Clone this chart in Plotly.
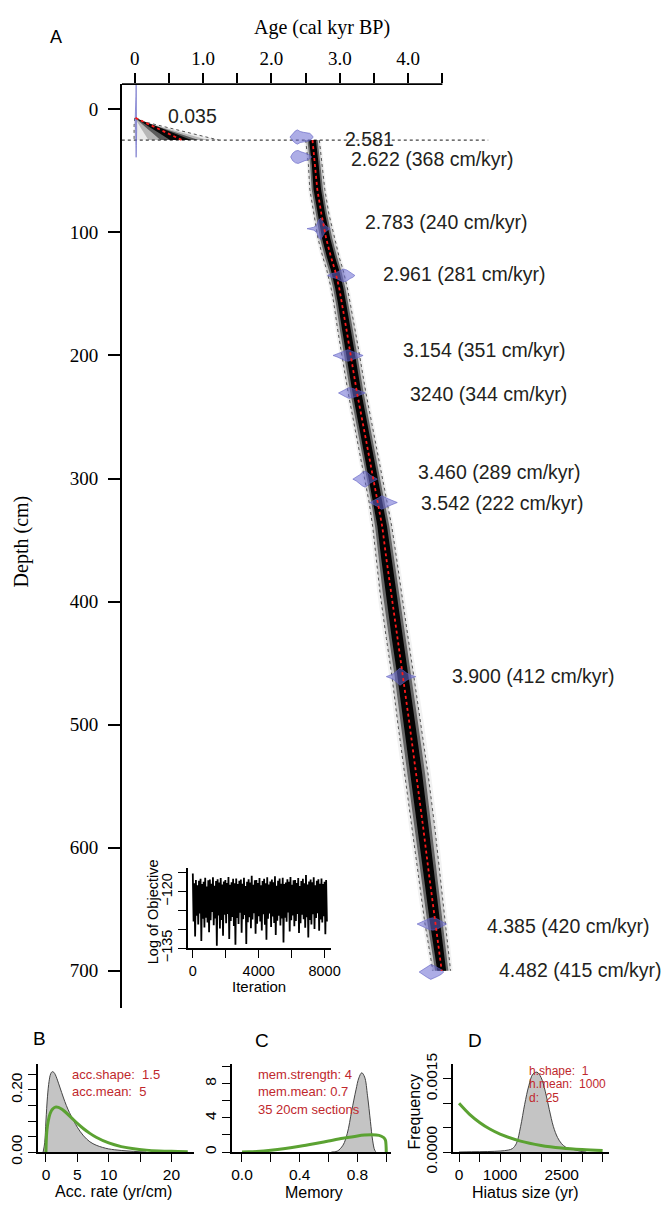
import numpy as np
import plotly.graph_objects as go

W, H = 670, 1222
def px(x): return x / W
def py(y): return 1 - y / H

SERIF = "Liberation Serif"
SANS = "Liberation Sans"
RED_TXT = "#c0282d"
GREEN = "#5ba232"

# ---------------- DATA ----------------
# Age-depth model, lower section (depth cm, mean age kyr, half-width of 95% range kyr)
model_depth = [25, 45, 65, 85, 105, 120, 131, 145, 157, 180, 197, 230, 265, 300, 320, 339,
               365, 394, 430, 460, 500, 540, 584, 620, 660, 700]
model_mean = [2.60, 2.64, 2.67, 2.73, 2.80, 2.87, 2.93, 2.99, 3.03, 3.10, 3.15, 3.25, 3.37, 3.49,
              3.56, 3.62, 3.68, 3.75, 3.84, 3.92, 4.02, 4.12, 4.22, 4.30, 4.39, 4.49]
model_hw = [0.10, 0.10, 0.11, 0.11, 0.12, 0.12, 0.12, 0.12, 0.12, 0.13, 0.13, 0.13, 0.13, 0.13,
            0.13, 0.14, 0.15, 0.16, 0.16, 0.16, 0.17, 0.17, 0.17, 0.16, 0.15, 0.13]

# Age-depth model, upper section (above hiatus)
top_depth = [7, 10, 13, 16, 19, 22, 25]
top_mean = [0.01, 0.12, 0.24, 0.35, 0.47, 0.58, 0.69]
top_lo = [0.0, -0.01, -0.01, -0.01, -0.01, -0.01, -0.01]
top_hi = [0.02, 0.13, 0.35, 0.57, 0.79, 1.01, 1.23]

hiatus_depth = 25

# Calibrated dates: depth, label, probability profile (age kyr, density)
date_depth = [9.5, 22.5, 38.7, 97, 135, 200, 230.5, 300.5, 319.5, 461, 662, 701]
date_label = ["0.035", "2.581", "2.622 (368 cm/kyr)", "2.783 (240 cm/kyr)",
              "2.961 (281 cm/kyr)", "3.154 (351 cm/kyr)", "3240 (344 cm/kyr)",
              "3.460 (289 cm/kyr)", "3.542 (222 cm/kyr)", "3.900 (412 cm/kyr)",
              "4.385 (420 cm/kyr)", "4.482 (415 cm/kyr)"]
date_ages = [
    [0.005, 0.012, 0.017, 0.02, 0.023, 0.028, 0.035],
    [2.27, 2.31, 2.35, 2.38, 2.42, 2.47, 2.52, 2.56, 2.59, 2.61],
    [2.28, 2.31, 2.35, 2.39, 2.43, 2.48, 2.53, 2.57, 2.59],
    [2.52, 2.56, 2.62, 2.66, 2.69, 2.72, 2.75, 2.78, 2.82, 2.86],
    [2.82, 2.88, 2.95, 3.00, 3.05, 3.10, 3.15, 3.19, 3.22],
    [2.90, 2.96, 3.02, 3.08, 3.12, 3.17, 3.22, 3.28, 3.34],
    [2.98, 3.03, 3.08, 3.13, 3.18, 3.23, 3.28, 3.33, 3.37],
    [3.19, 3.24, 3.29, 3.33, 3.37, 3.41, 3.45, 3.50, 3.55],
    [3.44, 3.50, 3.56, 3.61, 3.66, 3.71, 3.76, 3.84],
    [3.68, 3.74, 3.79, 3.84, 3.88, 3.93, 3.98, 4.04, 4.11],
    [4.13, 4.19, 4.25, 4.31, 4.36, 4.41, 4.46, 4.51, 4.56],
    [4.16, 4.22, 4.28, 4.33, 4.38, 4.43, 4.48, 4.52],
]
date_dens = [
    [0, 7, 20, 29.5, 20, 7, 0],
    [0, 3.0, 5.0, 5.8, 4.5, 3.8, 3.5, 3.0, 1.5, 0],
    [0, 3.0, 4.8, 5.3, 4.2, 3.2, 2.5, 0.8, 0],
    [0, 0.6, 1.2, 3.0, 7.0, 8.7, 6.0, 3.0, 1.2, 0],
    [0, 1.5, 2.5, 4.0, 5.2, 4.5, 2.5, 1.5, 0],
    [0, 1.2, 2.5, 4.2, 4.7, 3.5, 2.5, 1.5, 0],
    [0, 1.5, 3.0, 4.3, 3.8, 3.0, 2.0, 1.0, 0],
    [0, 1.5, 3.5, 5.5, 6.5, 5.0, 3.0, 1.5, 0],
    [0, 1.5, 3.5, 5.5, 4.5, 3.0, 1.8, 0],
    [0, 1.2, 2.5, 5.0, 7.0, 5.0, 2.8, 1.2, 0],
    [0, 1.5, 3.0, 4.5, 5.0, 4.5, 3.0, 1.5, 0],
    [0, 2.0, 4.5, 6.0, 5.0, 3.5, 2.0, 0],
]

# MCMC log objective trace
trace_vals = [
    -115.2, -127.9, -117.8, -131.9, -116.9, -126.4, -118.3, -128.7, -117.1, -125.8,
    -116.6, -133.1, -118.0, -127.2, -117.4, -129.5, -116.3, -126.9, -118.6, -128.2,
    -117.0, -130.8, -116.8, -127.6, -117.9, -125.4, -116.2, -128.9, -118.4, -127.1,
    -117.2, -134.4, -116.7, -126.3, -117.6, -129.8, -116.4, -127.5, -118.1, -131.7,
    -117.3, -126.1, -116.9, -128.4, -117.7, -125.9, -116.1, -132.6, -118.2, -127.8,
    -117.5, -126.7, -116.6, -129.1, -117.8, -134.1, -116.5, -127.0, -118.0, -128.6,
    -117.1, -125.6, -116.8, -130.9, -117.9, -127.3, -116.3, -126.2, -118.5, -133.9,
    -117.4, -128.1, -116.7, -126.8, -117.6, -129.7, -115.8, -127.4, -118.2, -125.7,
    -117.0, -131.2, -116.9, -128.5, -117.7, -126.5, -116.4, -127.9, -118.3, -130.3,
    -117.2, -126.0, -116.6, -128.8, -117.8, -132.8, -116.2, -127.2, -118.1, -125.8,
    -117.3, -129.4, -116.8, -126.6, -117.5, -128.3, -115.9, -131.5, -118.4, -127.7,
    -117.1, -126.4, -116.5, -129.0, -117.9, -127.1, -116.3, -133.5, -118.0, -126.9,
    -117.6, -128.0, -116.7, -125.5, -117.4, -130.6, -116.1, -127.6, -118.2, -126.3,
    -117.0, -129.2, -116.9, -127.8, -117.7, -125.9, -116.4, -131.0, -118.5, -128.4,
    -117.2, -126.1, -116.6, -127.3, -117.8, -129.6, -115.6, -126.8, -118.1, -132.2,
    -117.3, -127.5, -116.8, -128.7, -117.5, -126.0, -116.2, -129.9, -118.3, -127.0,
    -117.1, -125.7, -116.7, -130.4, -117.9, -127.4, -116.5, -128.2, -118.0, -126.5,
    -117.4, -131.3, -116.9, -127.9,
]
trace_last_iter = 8140

# Panel B: accumulation rate
acc_post_x = [-0.45, -0.2, 0, 0.25, 0.5, 0.75, 1.0, 1.25, 1.5, 2.0, 2.5, 3.0, 3.5, 4.0, 5.0,
              6.0, 7.0, 8.0, 9.0, 10.0, 12.0, 14.0, 16.0]
acc_post_y = [0, 0.03, 0.10, 0.18, 0.228, 0.252, 0.259, 0.257, 0.249, 0.222, 0.192, 0.163,
              0.138, 0.117, 0.080, 0.052, 0.033, 0.022, 0.015, 0.010, 0.005, 0.002, 0.0]
acc_prior_x = [0, 0.1, 0.25, 0.5, 0.75, 1.0, 1.5, 2.0, 2.5, 3, 4, 5, 6, 7, 8, 10, 12, 14, 16,
               18, 20, 22.6]
acc_prior_y = [0, 0.0569, 0.086, 0.1128, 0.1282, 0.1373, 0.1448, 0.1439, 0.1385, 0.1306,
               0.1117, 0.0925, 0.0751, 0.0601, 0.0476, 0.0292, 0.0175, 0.0104, 0.0061,
               0.00355, 0.00206, 0.0010]

# Panel C: memory
mem_post_x = [0.62, 0.66, 0.70, 0.73, 0.76, 0.79, 0.81, 0.83, 0.85, 0.87, 0.89, 0.905, 0.92, 0.93]
mem_post_y = [0, 0.1, 0.8, 2.2, 4.8, 7.3, 8.7, 9.3, 8.8, 6.6, 3.6, 1.4, 0.2, 0]
mem_prior_x = [0, 0.05, 0.1, 0.2, 0.3, 0.4, 0.5, 0.6, 0.7, 0.8, 0.85, 0.9, 0.95, 0.98, 0.99,
               0.995, 1.0]
mem_prior_y = [0, 0.018, 0.061, 0.206, 0.416, 0.676, 0.974, 1.294, 1.612, 1.890, 1.990,
               2.034, 1.952, 1.719, 1.523, 1.339, 0]

# Panel D: hiatus size
hia_post_x = [0, 300, 700, 1000, 1200, 1300, 1400, 1500, 1600, 1700, 1800, 1900, 2000, 2100,
              2200, 2300, 2400, 2500, 2600, 2800, 3000, 3100]
hia_post_y = [0, 0.000005, 0.00001, 0.00002, 0.00004, 0.00007, 0.00018, 0.00052, 0.00098,
              0.00136, 0.0016, 0.00164, 0.00153, 0.00125, 0.00087, 0.00052, 0.0003, 0.00017,
              0.0001, 0.00005, 0.00001, 0]
hia_prior_x = [0, 250, 500, 750, 1000, 1500, 2000, 2500, 3000, 3500]
hia_prior_y = [0.001, 0.000779, 0.000607, 0.000472, 0.000368, 0.000223, 0.000135, 0.000082,
               0.00005, 0.00003]

# ---------------- FIGURE ----------------
fig = go.Figure()
skip = dict(hoverinfo="skip", showlegend=False)

def poly(xs_lo, xs_hi, ys, color, ax="x", ay="y"):
    fig.add_trace(go.Scatter(x=list(xs_lo) + list(xs_hi)[::-1], y=list(ys) + list(ys)[::-1],
                             mode="lines", fill="toself", fillcolor=color, line=dict(width=0),
                             xaxis=ax, yaxis=ay, **skip))

# hiatus dotted line
fig.add_trace(go.Scatter(x=[-0.19, 5.17], y=[hiatus_depth, hiatus_depth], mode="lines",
                         line=dict(color="#444", width=1.1, dash="dot"), **skip))

# lower section band
mm = np.array(model_mean); hw = np.array(model_hw)
for f, c in [(1.25, "rgba(0,0,0,0.05)"), (1.0, "rgba(0,0,0,0.16)"),
             (0.75, "rgba(0,0,0,0.5)"), (0.5, "rgba(0,0,0,0.97)")]:
    poly(mm - f * hw, mm + f * hw, model_depth, c)
for s in (-1, 1):
    fig.add_trace(go.Scatter(x=mm + s * hw, y=model_depth, mode="lines",
                             line=dict(color="#555", width=1, dash="dot"), **skip))

# upper section band
tm = np.array(top_mean); tl = np.array(top_lo); th = np.array(top_hi)
for f, c in [(1.0, "rgba(0,0,0,0.08)"), (0.7, "rgba(0,0,0,0.22)"),
             (0.45, "rgba(0,0,0,0.5)"), (0.25, "rgba(0,0,0,0.92)")]:
    poly(tm - f * (tm - tl), tm + f * (th - tm), top_depth, c)
for b in (tl, th):
    fig.add_trace(go.Scatter(x=b, y=top_depth, mode="lines",
                             line=dict(color="#555", width=1, dash="dot"), **skip))

# calibrated dates
for d, a, p in zip(date_depth, date_ages, date_dens):
    a = np.array(a); p = np.array(p)
    fig.add_trace(go.Scatter(x=list(a) + list(a[::-1]), y=list(d - p) + list((d + p)[::-1]),
                             mode="lines", fill="toself", fillcolor="rgba(105,105,210,0.55)",
                             line=dict(color="rgba(95,95,195,0.75)", width=0.8), **skip))

# mean lines
fig.add_trace(go.Scatter(x=model_mean, y=model_depth, mode="lines",
                         line=dict(color="#ff1a1a", width=1.8, dash="dot"), **skip))
fig.add_trace(go.Scatter(x=top_mean, y=top_depth, mode="lines",
                         line=dict(color="#ff1a1a", width=1.8, dash="dot"), **skip))

# inset trace
fig.add_trace(go.Scatter(x=np.linspace(0, trace_last_iter, len(trace_vals)), y=trace_vals,
                         mode="lines", line=dict(color="black", width=1.8), xaxis="x2", yaxis="y2", **skip))

# B
fig.add_trace(go.Scatter(x=acc_post_x, y=acc_post_y, mode="lines", fill="tozeroy",
                         fillcolor="#c4c4c4", line=dict(color="#444", width=1, shape="spline"),
                         xaxis="x3", yaxis="y3", **skip))
fig.add_trace(go.Scatter(x=acc_prior_x, y=acc_prior_y, mode="lines",
                         line=dict(color=GREEN, width=3, shape="spline"), xaxis="x3", yaxis="y3", **skip))
# C
fig.add_trace(go.Scatter(x=mem_post_x, y=mem_post_y, mode="lines", fill="tozeroy",
                         fillcolor="#c4c4c4", line=dict(color="#444", width=1, shape="spline"),
                         xaxis="x4", yaxis="y4", **skip))
fig.add_trace(go.Scatter(x=mem_prior_x, y=mem_prior_y, mode="lines",
                         line=dict(color=GREEN, width=3, shape="spline"), xaxis="x4", yaxis="y4", **skip))
# D
fig.add_trace(go.Scatter(x=hia_post_x, y=hia_post_y, mode="lines", fill="tozeroy",
                         fillcolor="#c4c4c4", line=dict(color="#444", width=1, shape="spline"),
                         xaxis="x5", yaxis="y5", **skip))
fig.add_trace(go.Scatter(x=hia_prior_x, y=hia_prior_y, mode="lines",
                         line=dict(color=GREEN, width=3, shape="spline"), xaxis="x5", yaxis="y5", **skip))

# ---------------- AXES ----------------
base = dict(showgrid=False, zeroline=False, ticks="outside", tickcolor="black",
            linecolor="black", fixedrange=True)
sans_tick = dict(family=SANS, size=14.5, color="black")

layout = dict(
    width=W, height=H, margin=dict(l=0, r=0, t=0, b=0),
    paper_bgcolor="white", plot_bgcolor="rgba(0,0,0,0)", showlegend=False,
    xaxis=dict(base, domain=[px(123), 1], range=[-0.187, 7.683], side="top", anchor="y",
               showline=False, tickvals=[0, 0.5, 1, 1.5, 2, 2.5, 3, 3.5, 4, 4.5],
               ticktext=["0", "", "1.0", "", "2.0", "", "3.0", "", "4.0", ""],
               ticklen=10, tickwidth=1.6, tickfont=dict(family=SERIF, size=19, color="black")),
    yaxis=dict(base, domain=[py(1024), py(75)], range=[730.4, -20.55], anchor="x",
               showline=True, linewidth=1.8, ticklen=12, tickwidth=1.6,
               tickvals=[0, 100, 200, 300, 400, 500, 600, 700], ticklabelstandoff=6,
               tickfont=dict(family=SERIF, size=19, color="black")),
    xaxis2=dict(base, domain=[px(190), px(335)], range=[-298.5, 8358], anchor="y2",
                showline=True, linewidth=1.5, ticklen=8, tickwidth=1.4,
                tickvals=[0, 2000, 4000, 6000, 8000], ticktext=["0", "", "4000", "", "8000"],
                tickfont=sans_tick),
    yaxis2=dict(base, domain=[py(962.7), py(880)], range=[-135.1, -113.7], anchor="x2",
                showline=True, linewidth=1.5, ticklen=8, tickwidth=1.4, tickangle=-90,
                tickvals=[-135, -130, -125, -120, -115],
                ticktext=["\u2212135", "", "", "\u2212120", ""], tickfont=sans_tick),
    xaxis3=dict(base, domain=[px(37.3), px(196.7)], range=[-1.317, 23.67], anchor="y3",
                showline=True, linewidth=1.5, ticklen=8, tickwidth=1.4,
                tickvals=[0, 5, 10, 15, 20], ticktext=["0", "5", "10", "", "20"],
                tickfont=dict(sans_tick, size=15.5)),
    yaxis3=dict(base, domain=[py(1171.7), py(1081.7)], range=[0, 0.2826], anchor="x3",
                showline=True, linewidth=1.5, ticklen=8, tickwidth=1.4, tickangle=-90,
                tickvals=[0, 0.05, 0.1, 0.15, 0.2, 0.25],
                ticktext=["0.00", "", "", "", "0.20", ""], tickfont=dict(sans_tick, size=15.5)),
    xaxis4=dict(base, domain=[px(235), px(396.7)], range=[-0.0682, 1.034], anchor="y4",
                showline=True, linewidth=1.5, ticklen=8, tickwidth=1.4,
                tickvals=[0, 0.2, 0.4, 0.6, 0.8, 1.0], ticktext=["0.0", "", "0.4", "", "0.8", ""],
                tickfont=dict(sans_tick, size=15.5)),
    yaxis4=dict(base, domain=[py(1171.7), py(1081.7)], range=[0, 10.29], anchor="x4",
                showline=True, linewidth=1.5, ticklen=8, tickwidth=1.4, tickangle=-90,
                tickvals=[0, 2, 4, 6, 8, 10], ticktext=["0", "", "4", "", "8", ""],
                tickfont=dict(sans_tick, size=15.5)),
    xaxis5=dict(base, domain=[px(459.3), px(618.3)], range=[-153.4, 3658.6], anchor="y5",
                showline=True, linewidth=1.5, ticklen=8, tickwidth=1.4,
                tickvals=[0, 500, 1000, 1500, 2000, 2500, 3000, 3500],
                ticktext=["0", "", "1000", "", "", "2500", "", ""],
                tickfont=dict(sans_tick, size=15.5)),
    yaxis5=dict(base, domain=[py(1171.7), py(1081.7)], range=[0, 0.0018], anchor="x5",
                showline=True, linewidth=1.5, ticklen=8, tickwidth=1.4, tickangle=-90,
                tickvals=[0, 0.0005, 0.001, 0.0015],
                ticktext=["0.0000", "", "", "0.0015"], tickfont=dict(sans_tick, size=15.5)),
)
fig.update_layout(**layout)

# top axis line (age 0 .. 4.5)
fig.add_shape(type="line", xref="x", yref="paper", x0=-0.187, x1=4.5, y0=py(75), y1=py(75),
              line=dict(color="black", width=1.8))

# ---------------- TEXT ----------------
ann = []
def A(x, y, text, size, family=SANS, color="black", xanchor="center", angle=0):
    ann.append(dict(x=px(x), y=py(y), xref="paper", yref="paper", text=text, showarrow=False,
                    xanchor=xanchor, yanchor="middle", textangle=angle,
                    font=dict(family=family, size=size, color=color)))

A(56, 27, "A", 18)
A(326, 17, "Age (cal kyr BP)", 20, SERIF)
A(21, 545, "Depth (cm)", 20, SERIF, angle=-90)

label_pos = [(168, 108), (348, 131.7), (354, 151.7), (367.7, 216.7), (386.7, 270),
             (406.7, 348.3), (413.3, 393.3), (421.7, 473.3), (425, 505), (456.7, 683.3),
             (491.7, 940), (504, 985)]
for (x, y), t in zip(label_pos, date_label):
    A(x, y, t, 19.5, color="#231f20", xanchor="left")

# inset titles
A(154, 925, "Log of Objective", 14.5, angle=-90)
A(262, 1002, "Iteration", 15)

# bottom panels
A(39, 1055, "B", 19); A(265, 1057, "C", 19); A(482, 1057, "D", 19)
A(114, 1212, "Acc. rate (yr/cm)", 16)
A(318, 1213, "Memory", 16)
A(533, 1213, "Hiatus size (yr)", 16)
A(420, 1130, "Frequency", 16, angle=-90)

A(70, 1091.7, "acc.shape:\u00a0 1.5", 13, color=RED_TXT, xanchor="left")
A(70, 1110, "acc.mean:\u00a0 5", 13, color=RED_TXT, xanchor="left")
A(259, 1091.7, "mem.strength: 4", 13, color=RED_TXT, xanchor="left")
A(259, 1110, "mem.mean: 0.7", 13, color=RED_TXT, xanchor="left")
A(259, 1128, "35 20cm sections", 13, color=RED_TXT, xanchor="left")
A(535, 1088.3, "h.shape:\u00a0 1", 12, color=RED_TXT, xanchor="left")
A(535, 1101.7, "h.mean:\u00a0 1000", 12, color=RED_TXT, xanchor="left")
A(535, 1116, "d:\u00a0 25", 12, color=RED_TXT, xanchor="left")

fig.update_layout(annotations=ann)
fig.write_html("out.html")
